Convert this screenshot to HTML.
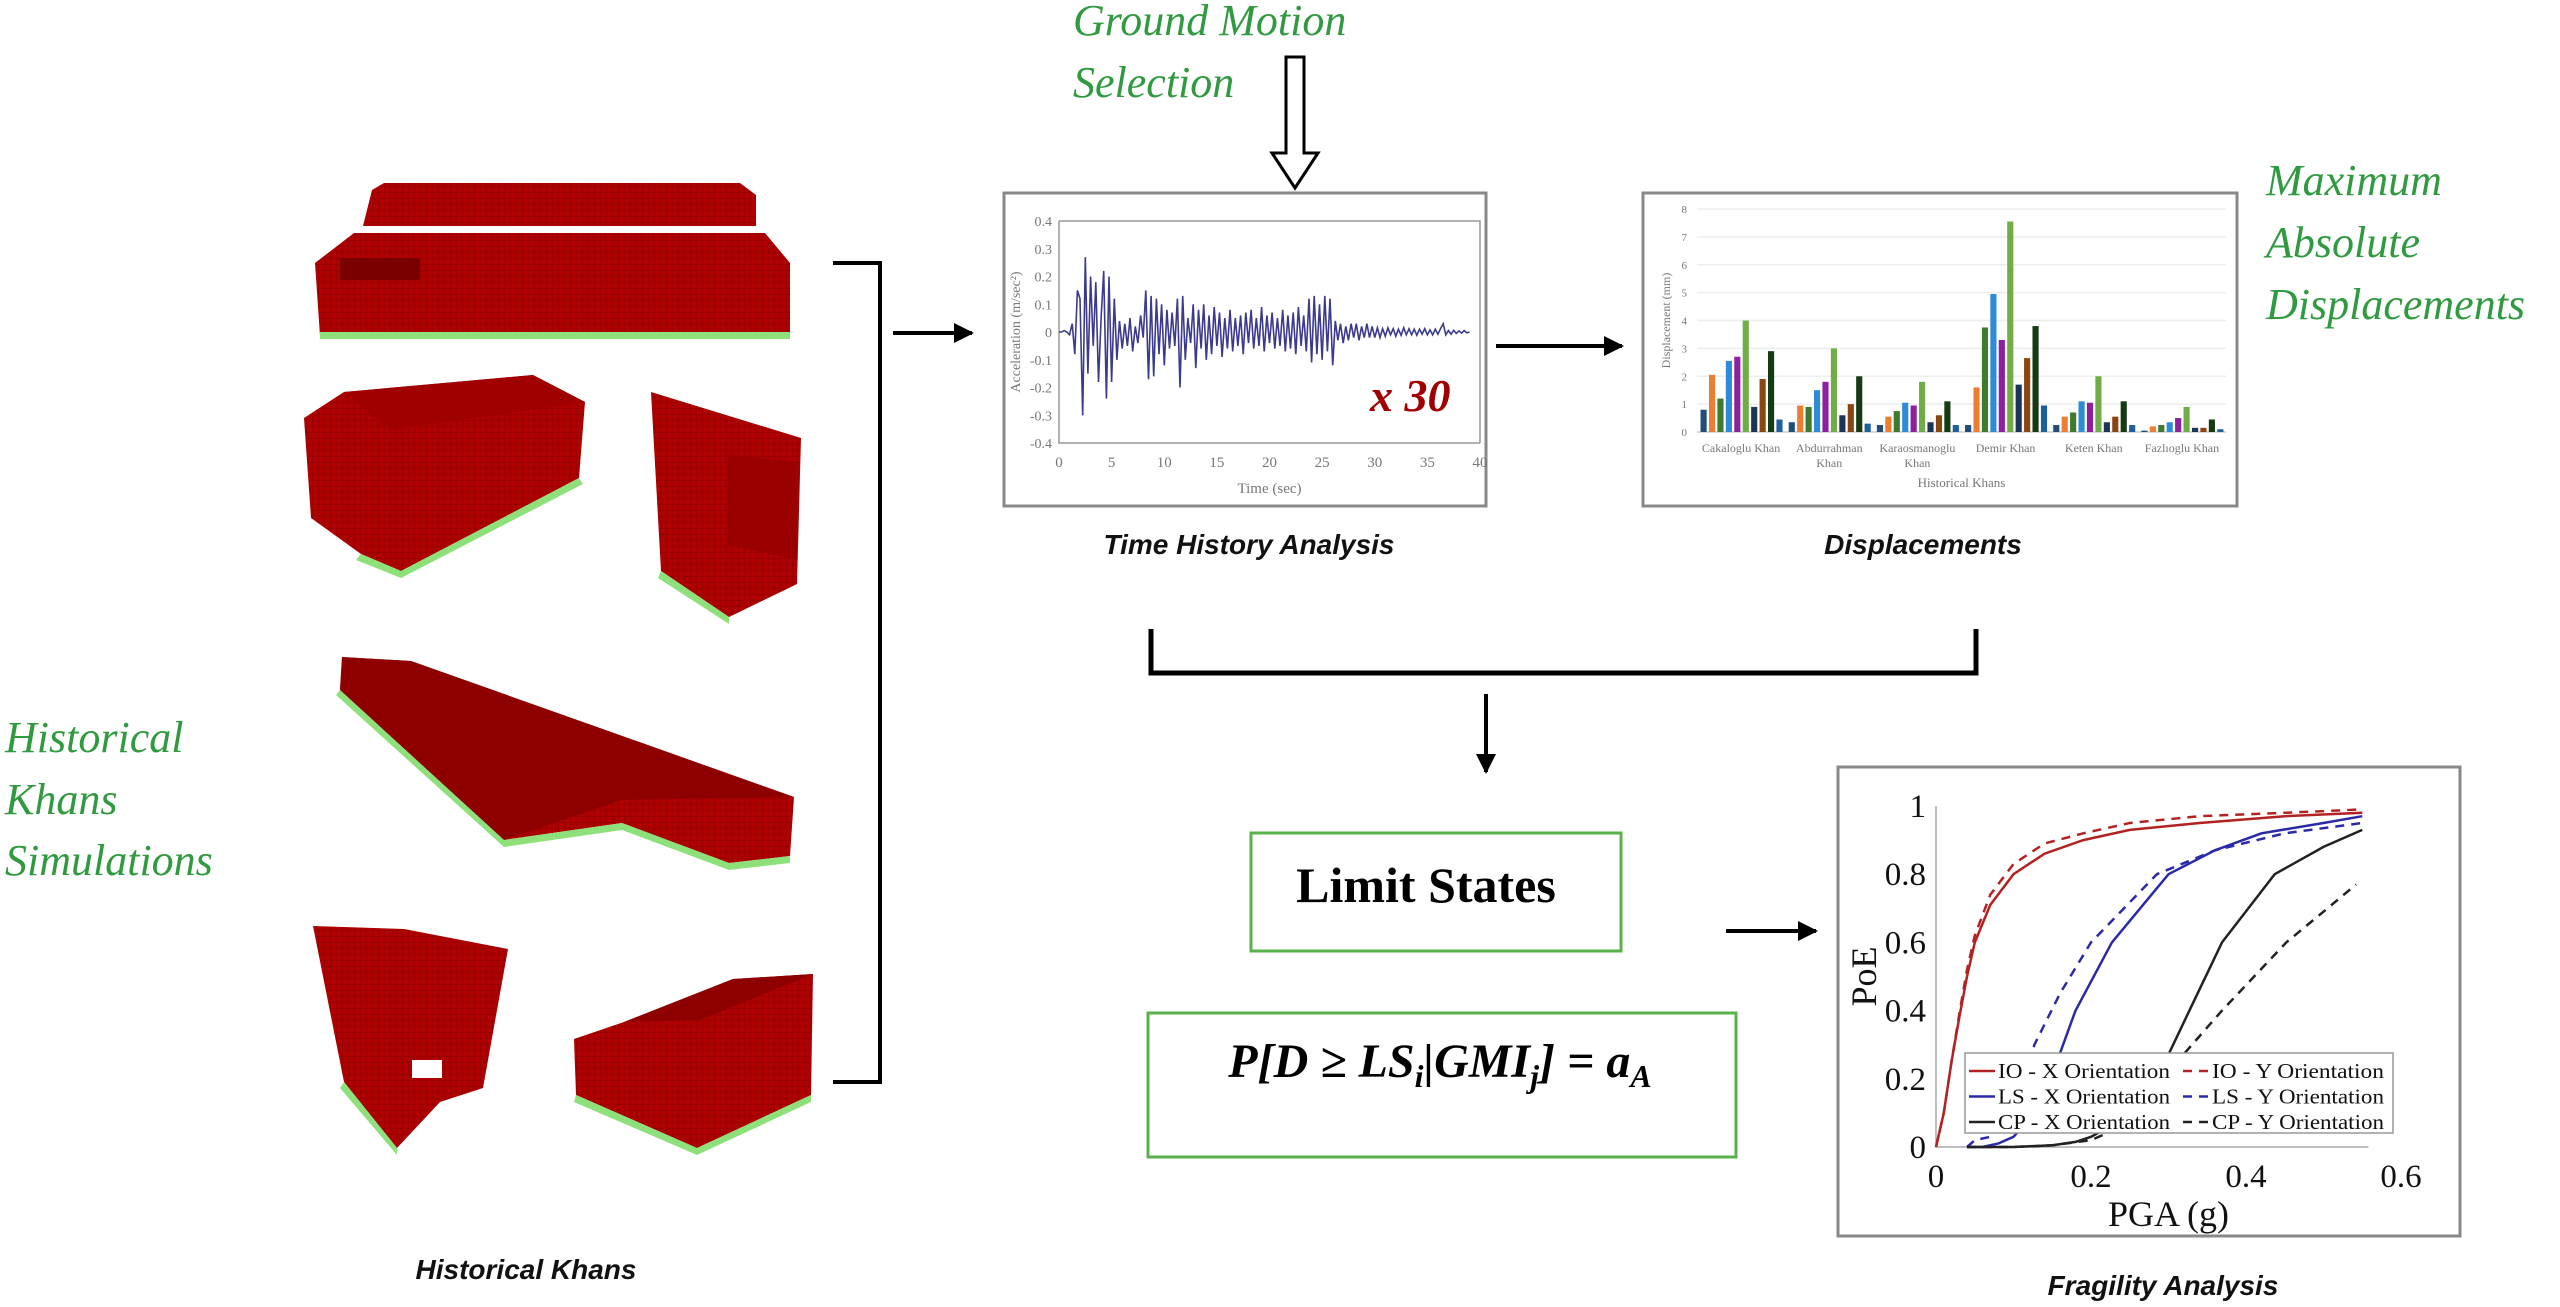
<!DOCTYPE html>
<html><head><meta charset="utf-8"><style>
html,body{margin:0;padding:0;background:#fff;}
svg{display:block;}
.g{fill:#2f9a3f;font-family:"Liberation Serif",serif;font-style:italic;font-size:44px;}
.cap{font-family:"Liberation Sans",sans-serif;font-style:italic;font-weight:bold;font-size:28px;fill:#111;}
.ser{font-family:"Liberation Serif",serif;}
</style></head><body>
<svg id="root" width="2560" height="1307" viewBox="0 0 2560 1307" xmlns="http://www.w3.org/2000/svg">
<defs>
<pattern id="grid" width="6" height="6" patternUnits="userSpaceOnUse"><rect width="6" height="6" fill="#b00000"/><path d="M0 0H6M0 0V6" stroke="#8a0000" stroke-width="1"/></pattern>
<marker id="ah" viewBox="0 0 10 10" refX="9" refY="5" markerWidth="5" markerHeight="5" orient="auto"><path d="M0 0L10 5L0 10z" fill="#000"/></marker>
</defs>

<text class="g" x="5" y="752">Historical</text>
<text class="g" x="5" y="814">Khans</text>
<text class="g" x="5" y="875">Simulations</text>
<text class="g" x="1073" y="35">Ground Motion</text>
<text class="g" x="1073" y="97">Selection</text>
<text class="g" x="2266" y="195">Maximum</text>
<text class="g" x="2266" y="257">Absolute</text>
<text class="g" x="2266" y="319">Displacements</text>

<g>
<polygon points="363,226 372,190 384,183 740,183 756,195 756,226" fill="url(#grid)"/>
<polygon points="315,263 354,233 765,233 790,263 790,336 320,336" fill="url(#grid)"/>
<rect x="340" y="258" width="80" height="22" fill="#7a0000"/>
<rect x="320" y="332" width="470" height="7" fill="#8ee07a"/>
<polygon points="304,418 344,392 533,375 585,402 579,478 401,571 361,554 311,518" fill="url(#grid)"/>
<polygon points="344,392 533,375 585,402 390,430" fill="#a00000"/>
<polygon points="361,554 401,571 579,478 583,484 401,578 356,560" fill="#8ee07a"/>
<polygon points="651,392 801,438 797,584 729,617 661,571" fill="url(#grid)"/>
<polygon points="728,455 797,462 797,560 728,545" fill="#9a0000"/>
<polygon points="661,571 729,617 729,624 658,578" fill="#8ee07a"/>
<polygon points="342,657 411,661 794,797 790,856 729,863 622,823 504,840 340,690" fill="url(#grid)"/>
<polygon points="342,657 411,661 794,797 622,800 504,840 340,690" fill="#8e0000"/>
<polygon points="340,690 504,840 622,823 729,863 790,856 790,863 729,870 622,830 504,847 336,695" fill="#8ee07a"/>
<polygon points="313,926 404,929 508,949 483,1088 440,1102 397,1148 344,1082" fill="url(#grid)"/>
<rect x="412" y="1060" width="30" height="18" fill="#fff"/>
<polygon points="344,1082 397,1148 397,1155 340,1088" fill="#8ee07a"/>
<polygon points="574,1039 624,1022 733,979 813,974 811,1095 697,1148 576,1095" fill="url(#grid)"/>
<polygon points="624,1022 733,979 813,974 700,1020" fill="#8e0000"/>
<polygon points="576,1095 697,1148 811,1095 811,1102 697,1155 574,1102" fill="#8ee07a"/>
</g>

<path d="M833 263H880V1082H833" fill="none" stroke="#000" stroke-width="4"/>
<line x1="893" y1="333" x2="972" y2="333" stroke="#000" stroke-width="4" marker-end="url(#ah)"/>
<text class="cap" x="526" y="1279" text-anchor="middle">Historical Khans</text>

<polygon points="1286,57 1304,57 1304,153 1318,153 1295,188 1272,153 1286,153" fill="#fff" stroke="#000" stroke-width="3"/>

<rect x="1004" y="193" width="482" height="313" fill="#fff" stroke="#888" stroke-width="3"/>
<g id="th"></g>
<text class="cap" x="1249" y="554" text-anchor="middle">Time History Analysis</text>
<line x1="1496" y1="346" x2="1622" y2="346" stroke="#000" stroke-width="4" marker-end="url(#ah)"/>

<rect x="1643" y="193" width="594" height="313" fill="#fff" stroke="#888" stroke-width="3"/>
<g id="dc"></g>
<text class="cap" x="1923" y="554" text-anchor="middle">Displacements</text>

<path d="M1151 629V673H1976V629" fill="none" stroke="#000" stroke-width="5"/>
<line x1="1486" y1="694" x2="1486" y2="772" stroke="#000" stroke-width="4" marker-end="url(#ah)"/>

<rect x="1251" y="833" width="370" height="118" fill="#fff" stroke="#5ab04a" stroke-width="3"/>
<text class="ser" x="1426" y="902" text-anchor="middle" font-size="50" font-weight="bold">Limit States</text>
<rect x="1148" y="1013" width="588" height="144" fill="#fff" stroke="#5ab04a" stroke-width="3"/>
<text class="ser" x="1440" y="1077" text-anchor="middle" font-size="48" font-weight="bold" font-style="italic">P[D ≥ LS<tspan font-size="32" dy="10">i</tspan><tspan dy="-10">|GMI</tspan><tspan font-size="32" dy="10">j</tspan><tspan dy="-10">] = a</tspan><tspan font-size="32" dy="10">A</tspan></text>
<line x1="1726" y1="931" x2="1816" y2="931" stroke="#000" stroke-width="4" marker-end="url(#ah)"/>

<rect x="1838" y="767" width="622" height="469" fill="#fff" stroke="#888" stroke-width="3"/>
<g id="fc"></g>
<text class="cap" x="2163" y="1295" text-anchor="middle">Fragility Analysis</text>
</svg>
<script>
var NS="http://www.w3.org/2000/svg";
function mk(p,t,a){var e=document.createElementNS(NS,t);for(var k in a)e.setAttribute(k,a[k]);p.appendChild(e);return e;}

var thTicksX=[0,5,10,15,20,25,30,35,40];
var thTicksY=[0.4,0.3,0.2,0.1,0,-0.1,-0.2,-0.3,-0.4];
var thDt=0.25;
var thAccel=[0,0,0.005,0,-0.01,0.03,
-0.08,0.15,0.12,-0.3,0.27,-0.15,0.2,-0.05,0.18,-0.18,0.05,0.22,-0.24,0.2,-0.18,
0.12,-0.1,0.04,-0.06,0.03,-0.05,0.05,-0.07,0.02,-0.04,0.06,-0.02,
0.15,-0.17,0.13,-0.16,0.12,-0.08,0.1,-0.12,0.08,-0.06,0.07,-0.05,0.12,-0.2,0.13,-0.1,
0.05,-0.04,0.1,-0.13,0.08,-0.06,0.1,-0.1,0.06,-0.08,0.09,-0.05,0.07,-0.09,0.05,-0.06,0.08,-0.07,0.05,-0.05,0.06,-0.08,0.07,-0.04,
0.08,-0.06,0.05,-0.05,0.09,-0.07,0.06,-0.04,0.07,-0.06,0.05,-0.05,0.08,-0.07,0.06,-0.06,0.07,-0.08,0.09,-0.05,0.06,-0.07,0.12,-0.11,
0.13,-0.08,0.1,-0.1,0.13,-0.07,0.12,-0.12,
0.04,-0.03,0.03,-0.04,0.02,-0.03,0.03,-0.02,0.03,-0.03,0.02,-0.02,0.03,-0.02,0.02,-0.02,
0.015,-0.02,0.012,-0.015,0.015,-0.01,0.012,-0.015,0.01,-0.012,0.015,-0.01,0.012,-0.01,0.01,-0.012,0.01,-0.008,0.012,-0.01,0.008,-0.01,0.01,-0.008,0.012,0.03,-0.01,0.005,-0.008,0.006,-0.005,0.004,-0.004,0.005,-0.003,0];

var khans=[["Cakaloglu Khan"],["Abdurrahman","Khan"],["Karaosmanoglu","Khan"],["Demir Khan"],["Keten Khan"],["Fazlıoglu Khan"]];
var dispTicks=[0,1,2,3,4,5,6,7,8];
var s1=[0.8,0.35,0.25,0.25,0.25,0.05];
var s2=[2.05,0.95,0.55,1.6,0.55,0.2];
var s3=[1.2,0.9,0.75,3.75,0.7,0.25];
var s4=[2.55,1.5,1.05,4.95,1.1,0.35];
var s5=[2.7,1.8,0.95,3.3,1.05,0.5];
var s6=[4.0,3.0,1.8,7.55,2.0,0.9];
var s7=[0.9,0.6,0.35,1.7,0.35,0.15];
var s8=[1.9,1.0,0.6,2.65,0.55,0.15];
var s9=[2.9,2.0,1.1,3.8,1.1,0.45];
var s10=[0.45,0.3,0.25,0.95,0.25,0.1];
var dispSeries=[s1,s2,s3,s4,s5,s6,s7,s8,s9,s10];
var dispColors=["#1f4e79","#ed7d31","#3f7a2e","#2e8bd8","#8e1f9e","#70ad47","#1c3557","#8b4513","#163a14","#1f5f9e"];

var pgaTicks=[0,0.2,0.4,0.6];
var poeTicks=[0,0.2,0.4,0.6,0.8,1];
var ioX_x=[0,0.01,0.02,0.03,0.04,0.05,0.07,0.1,0.14,0.19,0.25,0.34,0.45,0.55];
var ioX_y=[0,0.1,0.25,0.38,0.5,0.6,0.71,0.8,0.86,0.9,0.93,0.95,0.97,0.98];
var ioY_x=[0,0.01,0.02,0.03,0.04,0.05,0.07,0.1,0.14,0.19,0.25,0.34,0.45,0.55];
var ioY_y=[0,0.1,0.25,0.39,0.52,0.62,0.74,0.83,0.89,0.92,0.95,0.97,0.98,0.99];
var lsX_x=[0.04,0.06,0.08,0.1,0.12,0.148,0.18,0.227,0.3,0.36,0.42,0.5,0.55];
var lsX_y=[0,0,0.01,0.03,0.08,0.2,0.4,0.6,0.8,0.87,0.92,0.95,0.97];
var lsY_x=[0.04,0.05,0.07,0.09,0.11,0.127,0.16,0.2,0.285,0.36,0.45,0.55];
var lsY_y=[0,0.02,0.03,0.07,0.17,0.3,0.45,0.6,0.8,0.87,0.92,0.95];
var cpX_x=[0.04,0.1,0.15,0.18,0.2,0.24,0.285,0.327,0.369,0.437,0.5,0.55];
var cpX_y=[0,0,0.005,0.015,0.03,0.08,0.2,0.4,0.6,0.8,0.88,0.93];
var cpY_x=[0.04,0.1,0.15,0.2,0.25,0.311,0.369,0.452,0.5,0.542];
var cpY_y=[0,0,0.005,0.02,0.07,0.25,0.4,0.6,0.69,0.77];
var legendLabels=["IO - X Orientation","IO - Y Orientation","LS - X Orientation","LS - Y Orientation","CP - X Orientation","CP - Y Orientation"];

(function(){
 var g=document.getElementById('th');
 var x0=1059,x1=1480,y0=221,y1=443;
 function X(v){return x0+(v-0)/(40)*(x1-x0);}
 function Y(v){return y0+(0.4-v)/0.8*(y1-y0);}
 var ax=mk(g,'path',{d:'M'+x0+' '+y0+'V'+y1+'H'+x1+'M'+x0+' '+y0+'H'+x1+'V'+y1,fill:'none',stroke:'#999','stroke-width':1.5});
 
 
 thTicksX.forEach(function(t){var e=mk(g,'text',{x:X(t),y:y1+24,'text-anchor':'middle','font-size':15,fill:'#777','font-family':'Liberation Serif'});e.textContent=t;
  
  });
 thTicksY.forEach(function(t){var e=mk(g,'text',{x:x0-7,y:Y(t)+5,'text-anchor':'end','font-size':14,fill:'#777','font-family':'Liberation Serif'});e.textContent=t;
  
  });
 var xt=mk(g,'text',{x:(x0+x1)/2,y:y1+50,'text-anchor':'middle','font-size':15,fill:'#777','font-family':'Liberation Serif'});xt.textContent='Time (sec)';
 
 
 var yt=mk(g,'text',{x:0,y:0,transform:'translate(1020,'+((y0+y1)/2)+') rotate(-90)','text-anchor':'middle','font-size':14,fill:'#777','font-family':'Liberation Serif'});yt.textContent='Acceleration (m/sec²)';
 
 
 var d='';thAccel.forEach(function(v,i){d+=(i?'L':'M')+X(i*thDt).toFixed(1)+' '+Y(v).toFixed(1);});
 var l=mk(g,'path',{d:d,fill:'none',stroke:'#3b3a8e','stroke-width':1.6});
 
 
 var m=mk(g,'text',{x:1370,y:411,'font-size':46,'font-weight':'bold','font-style':'italic',fill:'#a00000','font-family':'Liberation Serif'});m.textContent='x 30';
 
 
})();

(function(){
 var g=document.getElementById('dc');
 var x0=1697,x1=2226,y0=432,y8=209;
 function Y(v){return y0-(v/8)*(y0-y8);}
 dispTicks.forEach(function(t){
  var ln=mk(g,'line',{x1:x0,x2:x1,y1:Y(t),y2:Y(t),stroke:t?'#eee':'#ccc','stroke-width':1.5});
  
  
  var e=mk(g,'text',{x:x0-10,y:Y(t)+4,'text-anchor':'end','font-size':11,fill:'#777','font-family':'Liberation Serif'});e.textContent=t;
  
  });
 var gw=(x1-x0)/khans.length, bw=gw/11.5;
 khans.forEach(function(k,ci){
  var gx=x0+ci*gw+gw*0.04;
  dispSeries.forEach(function(s,si){
   var b=mk(g,'rect',{x:gx+si*bw*1.1,y:Y(s[ci]),width:bw*0.8,height:y0-Y(s[ci]),fill:dispColors[si]});
   
   
  });
  k.forEach(function(line,li){var e=mk(g,'text',{x:x0+ci*gw+gw/2,y:452+li*15,'text-anchor':'middle','font-size':12,fill:'#777','font-family':'Liberation Serif'});e.textContent=line;
   
   });
 });
 var xt=mk(g,'text',{x:(x0+x1)/2,y:487,'text-anchor':'middle','font-size':13,fill:'#777','font-family':'Liberation Serif'});xt.textContent='Historical Khans';
 
 
 var yt=mk(g,'text',{x:0,y:0,transform:'translate(1670,'+((y0+y8)/2)+') rotate(-90)','text-anchor':'middle','font-size':12,fill:'#777','font-family':'Liberation Serif'});yt.textContent='Displacement (mm)';
 
 
})();

(function(){
 var g=document.getElementById('fc');
 var x0=1936,x1=2401,y1=806,y0=1147;
 function X(v){return x0+v/0.6*(x1-x0);}
 function Y(v){return y0-v*(y0-y1);}
 var ax=mk(g,'path',{d:'M'+x0+' '+y1+'V'+y0+'H'+(x0+(x1-x0)*0.93),fill:'none',stroke:'#aaa','stroke-width':1.5});
 
 
 pgaTicks.forEach(function(t){var e=mk(g,'text',{x:X(t),y:y0+40,'text-anchor':'middle','font-size':33,fill:'#111','font-family':'Liberation Serif'});e.textContent=t;
  
  });
 poeTicks.forEach(function(t){var e=mk(g,'text',{x:x0-10,y:Y(t)+11,'text-anchor':'end','font-size':33,fill:'#111','font-family':'Liberation Serif'});e.textContent=t;
  
  });
 var xt=mk(g,'text',{x:X(0.3),y:1226,'text-anchor':'middle','font-size':36,fill:'#111','font-family':'Liberation Serif'});xt.textContent='PGA (g)';
 
 
 var yt=mk(g,'text',{x:0,y:0,transform:'translate(1876,'+Y(0.5)+') rotate(-90)','text-anchor':'middle','font-size':36,fill:'#111','font-family':'Liberation Serif'});yt.textContent='PoE';
 
 
 var curves=[[ioX_x,ioX_y,'#b22222',''],[ioY_x,ioY_y,'#b22222','9,7'],[lsX_x,lsX_y,'#2a2aa8',''],[lsY_x,lsY_y,'#2a2aa8','9,7'],[cpX_x,cpX_y,'#222',''],[cpY_x,cpY_y,'#222','9,7']];
 var names=['io-x-curve','io-y-curve','ls-x-curve','ls-y-curve','cp-x-curve','cp-y-curve'];
 curves.forEach(function(c,i){
  var d='';c[0].forEach(function(v,j){d+=(j?'L':'M')+X(v).toFixed(1)+' '+Y(c[1][j]).toFixed(1);});
  var p=mk(g,'path',{d:d,fill:'none',stroke:c[2],'stroke-width':2.5,'stroke-dasharray':c[3]||'none'});
  
  
 });
 var lg=mk(g,'g',{});
 
 
 mk(lg,'rect',{x:1965,y:1053,width:428,height:80,fill:'#fff',stroke:'#999','stroke-width':1.5});
 legendLabels.forEach(function(t,i){
  var col=i%2,row=Math.floor(i/2);
  var lx=1969+col*214, ly=1078+row*25.5;
  var c=curves[i];
  var ln=mk(lg,'line',{x1:lx,x2:lx+26,y1:ly-7,y2:ly-7,stroke:c[2],'stroke-width':2.5,'stroke-dasharray':c[3]||'none'});
  
  
  var e=mk(lg,'text',{x:lx+29,y:ly,'font-size':21,fill:'#111','font-family':'Liberation Serif',textLength:172,lengthAdjust:'spacingAndGlyphs'});e.textContent=t;
  
  
 });
})();
</script>
</body></html>
